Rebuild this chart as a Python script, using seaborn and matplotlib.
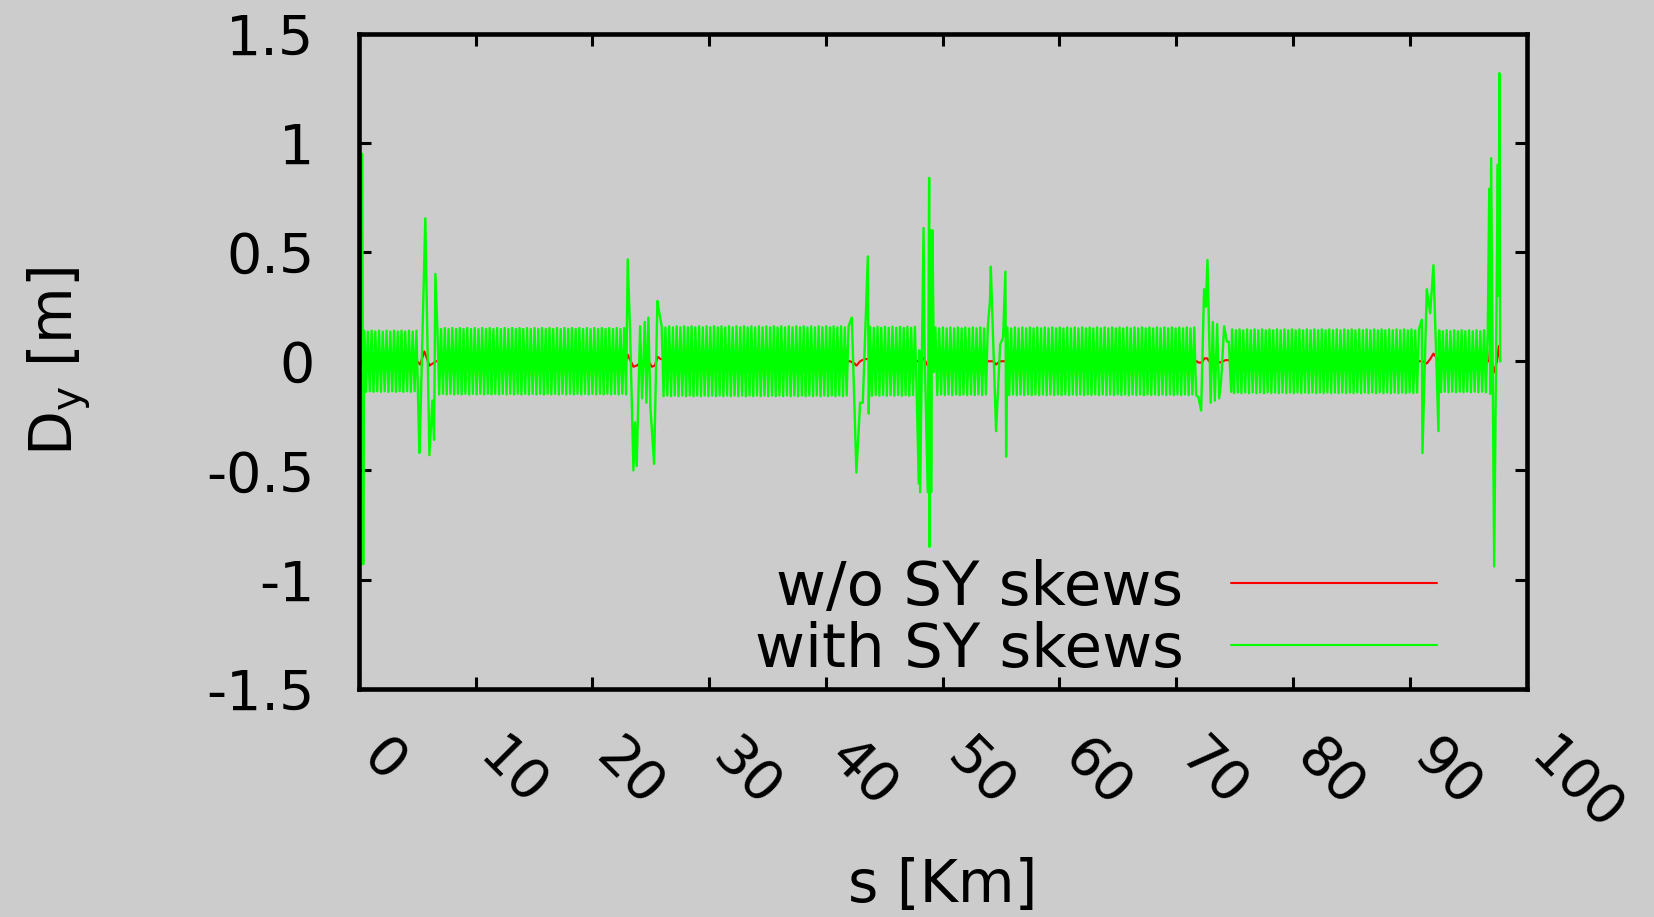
import numpy as np
import matplotlib
matplotlib.use("Agg")
import matplotlib.pyplot as plt
from matplotlib.transforms import ScaledTranslation
import seaborn as sns

# ---------------- data ----------------
# periodic arcs of the "with SY skews" dispersion: start/end [km] and amplitude [m]
ARC_START = [0.46, 6.73, 25.94, 43.78, 49.38, 55.54, 74.78, 92.51]
ARC_END = [5.00, 22.89, 42.07, 47.89, 53.95, 71.76, 90.88, 96.79]
ARC_AMP = [0.140, 0.152, 0.160, 0.158, 0.155, 0.155, 0.146, 0.142]
CELL_STEP = 0.16                       # km between successive extremes in the arcs
CELL_SHAPE = [1.0, -1.0, 0.97, -0.98]  # relative extremes within the arc pattern

# insertion regions, "with SY skews"
SPIKE_S = [0.00, 0.30, 0.38,
           5.19, 5.25, 5.70, 6.05, 6.30, 6.45, 6.56,
           23.03, 23.23, 23.52, 23.66, 23.80, 24.09, 24.26, 24.49, 24.63, 24.80, 24.97, 25.29, 25.57, 25.74,
           42.22, 42.61, 42.93, 43.16, 43.59, 43.67,
           47.95, 48.01, 48.07, 48.36, 48.45, 48.72, 48.84, 48.86, 48.95, 49.01, 49.12, 49.25,
           54.05, 54.12, 54.57, 54.92, 55.17, 55.37, 55.43,
           71.90, 72.13, 72.38, 72.53, 72.67, 72.95, 73.13, 73.30, 73.50, 73.67, 73.84, 74.10, 74.33, 74.50, 74.70,
           91.02, 91.08, 91.45, 91.74, 92.02, 92.45,
           96.80, 96.88, 96.96, 97.22, 97.53, 97.60, 97.67, 97.73]
SPIKE_D = [0.00, 0.95, -0.93,
           -0.42, -0.33, 0.655, -0.43, -0.18, -0.36, 0.40,
           0.467, 0.143, -0.50, -0.28, -0.48, 0.16, -0.17, 0.18, -0.19, 0.20, -0.21, -0.47, 0.276, 0.22,
           0.20, -0.51, -0.19, -0.19, 0.48, -0.24,
           -0.56, 0.05, -0.60, 0.61, 0.05, -0.60, 0.84, -0.85, 0.60, -0.60, 0.60, -0.05,
           0.28, 0.433, -0.32, 0.075, 0.11, 0.41, -0.437,
           -0.165, -0.226, 0.33, 0.25, 0.464, -0.19, 0.18, -0.18, 0.17, -0.17, -0.09, 0.16, 0.09, 0.09, -0.14,
           0.19, -0.42, 0.33, 0.22, 0.44, -0.32,
           0.79, -0.15, 0.93, -0.94, 0.90, 0.30, 1.32, 0.00]

# "w/o SY skews"
RED_S = [0.00, 0.10, 0.30, 5.00, 5.25, 5.62, 6.05, 6.35, 6.60,
         22.89, 23.03, 23.20, 23.52, 23.80, 24.30, 24.80, 25.10, 25.35, 25.60, 25.85,
         42.07, 42.45, 42.61, 42.93, 43.30, 43.60, 43.78,
         47.89, 48.36, 48.72, 49.00, 49.38,
         53.95, 54.30, 54.57, 54.90, 55.54,
         71.76, 71.90, 72.20, 72.40, 72.65, 72.80, 73.80, 74.20, 74.45, 74.78,
         90.88, 91.10, 91.45, 91.74, 92.02, 92.51,
         96.79, 96.85, 97.00, 97.22, 97.45, 97.62, 97.73]
RED_D = [0.00, -0.02, 0.00, 0.00, -0.015, 0.045, -0.02, -0.01, 0.00,
         0.00, 0.03, 0.01, -0.025, -0.02, 0.00, 0.00, -0.025, -0.02, 0.02, 0.01,
         0.00, -0.01, -0.02, 0.00, 0.01, 0.01, 0.00,
         0.00, 0.015, -0.02, 0.00, 0.00,
         0.00, 0.00, -0.015, 0.00, 0.00,
         0.00, -0.006, -0.006, 0.013, 0.013, 0.00, -0.005, 0.005, 0.005, 0.00,
         0.00, 0.00, -0.01, 0.01, 0.035, 0.00,
         0.00, 0.05, 0.00, -0.05, 0.00, 0.07, 0.00]

X_TICKS = [0, 10, 20, 30, 40, 50, 60, 70, 80, 90, 100]
Y_TICKS = [-1.5, -1.0, -0.5, 0.0, 0.5, 1.0, 1.5]
Y_TICK_LABELS = ["-1.5", "-1", "-0.5", "0", "0.5", "1", "1.5"]
LABELS = ["w/o SY skews", "with SY skews"]

# ---------------- build the green series ----------------
parts_s, parts_d = [np.array(SPIKE_S)], [np.array(SPIKE_D)]
for s0, s1, amp in zip(ARC_START, ARC_END, ARC_AMP):
    s = np.arange(s0, s1 + 1e-9, CELL_STEP)
    parts_s.append(s)
    parts_d.append(amp * np.resize(np.array(CELL_SHAPE), len(s)))
green_s = np.concatenate(parts_s)
green_d = np.concatenate(parts_d)
order = np.argsort(green_s, kind="stable")
green_s, green_d = green_s[order], green_d[order]

# ---------------- style ----------------
BG = "#cccccc"
sns.set_theme(style="ticks")
plt.rcParams["font.family"] = ["DejaVu Sans"]
plt.rcParams["mathtext.default"] = "regular"
plt.rcParams["axes.linewidth"] = 3.3
for key in ["text.color", "axes.labelcolor", "xtick.color", "ytick.color",
            "xtick.labelcolor", "ytick.labelcolor", "axes.edgecolor"]:
    plt.rcParams[key] = "black"

fig = plt.figure(figsize=(16.54, 9.17), dpi=100, facecolor=BG)
ax = fig.add_axes([0.2169, 0.2489, 0.7061, 0.7143])
ax.set_facecolor(BG)

sns.lineplot(x=RED_S, y=RED_D, ax=ax, color="#ff0000", lw=1.5,
             estimator=None, sort=False, label=LABELS[0])
sns.lineplot(x=green_s, y=green_d, ax=ax, color="#00ff00", lw=1.7,
             estimator=None, sort=False, label=LABELS[1])

ax.set_xlim(0, 100)
ax.set_ylim(-1.5, 1.5)
ax.set_xticks(X_TICKS)
ax.set_xticklabels([str(t) for t in X_TICKS])
ax.set_yticks(Y_TICKS)
ax.set_yticklabels(Y_TICK_LABELS)

for sp in ax.spines.values():
    sp.set_visible(True)
    sp.set_color("black")
    sp.set_linewidth(3.3)

ax.tick_params(axis="both", which="major", direction="in", length=8.6, width=2.2,
               colors="black", labelcolor="black", top=True, right=True, labelsize=40)
ax.tick_params(axis="y", pad=32)
ax.tick_params(axis="x", pad=43)
off = ScaledTranslation(0.12, 0, fig.dpi_scale_trans)
for lab in ax.get_xticklabels():
    lab.set_rotation(-45)
    lab.set_rotation_mode("anchor")
    lab.set_ha("left")
    lab.set_va("center")
    lab.set_transform(lab.get_transform() + off)

ax.set_xlabel("s [Km]", fontsize=42, va="center", color="black")
ax.xaxis.set_label_coords(0.5, -0.301)
ax.set_ylabel("$D_y$ [m]", fontsize=42, va="center", color="black")
ax.yaxis.set_label_coords(-0.256, 0.5)

leg = ax.legend(loc="lower right", bbox_to_anchor=(0.9234, 0.014), frameon=False,
                markerfirst=False, fontsize=44, handlelength=3.37, handletextpad=0.78,
                labelspacing=0.05, borderpad=0.0, borderaxespad=0.0)
for txt in leg.get_texts():
    txt.set_color("black")
for line in leg.get_lines():
    line.set_linewidth(1.5)

fig.savefig("out.png", dpi=100, facecolor=BG)
